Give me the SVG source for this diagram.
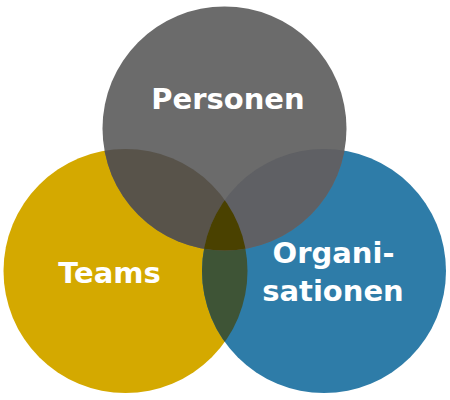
<svg xmlns="http://www.w3.org/2000/svg" width="450" height="400" viewBox="0 0 450 400">
  <style>
    .lbl { font-family: "DejaVu Sans", "Liberation Sans", sans-serif; font-weight: bold; font-size: 29px; fill: #ffffff; text-anchor: middle; }
  </style>
  <defs>
    <clipPath id="cy"><circle cx="125.5" cy="271" r="122"/></clipPath>
    <clipPath id="cb"><circle cx="324" cy="271" r="122"/></clipPath>
    <clipPath id="cg"><circle cx="224.5" cy="128.5" r="122"/></clipPath>
  </defs>
  <rect width="450" height="400" fill="#ffffff"/>
  <g id="teams">
    <circle cx="125.5" cy="271" r="122" fill="#d4a900"/>
  </g>
  <g id="organisationen">
    <circle cx="324" cy="271" r="122" fill="#2e7ca8"/>
  </g>
  <g id="personen">
    <circle cx="224.5" cy="128.5" r="122" fill="#6b6b6b"/>
  </g>
  <g id="overlaps">
    <g clip-path="url(#cy)"><circle cx="324" cy="271" r="122" fill="#3e5436"/></g>
    <g clip-path="url(#cy)"><circle cx="224.5" cy="128.5" r="122" fill="#58534a"/></g>
    <g clip-path="url(#cb)"><circle cx="224.5" cy="128.5" r="122" fill="#5f6064"/></g>
    <g clip-path="url(#cy)"><g clip-path="url(#cb)"><circle cx="224.5" cy="128.5" r="122" fill="#4a4100"/></g></g>
  </g>
  <g id="labels">
    <text class="lbl" x="228" y="109">Personen</text>
    <text class="lbl" x="109.5" y="283">Teams</text>
    <text class="lbl" x="333.5" y="263">Organi-</text>
    <text class="lbl" x="333" y="301">sationen</text>
  </g>
</svg>
